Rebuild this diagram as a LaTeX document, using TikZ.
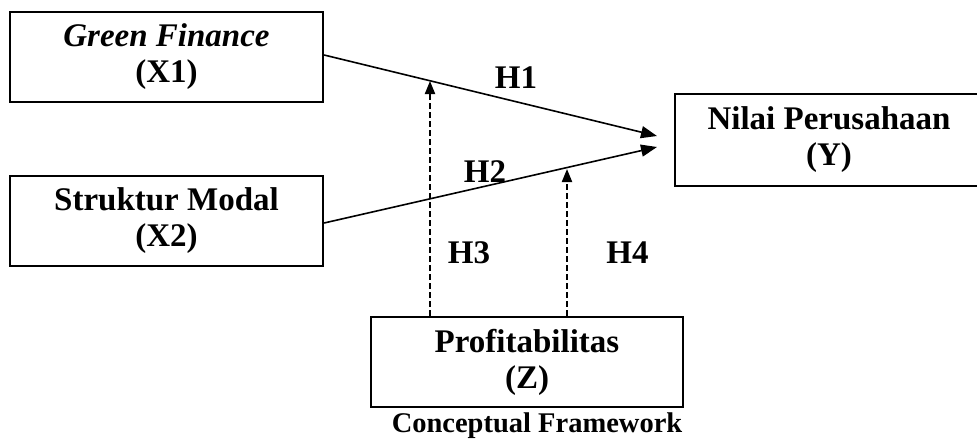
\documentclass[tikz,border=0pt]{standalone}
\usepackage{fontspec}
\setmainfont{Liberation Serif}
\usetikzlibrary{arrows.meta}
\begin{document}
\begin{tikzpicture}[x=1pt,y=-1pt,
 box/.style={draw, line width=2.2pt, minimum width=313pt, minimum height=90pt, align=center, inner sep=0pt, font=\fontsize{33}{36}\selectfont\bfseries},
 arr/.style={line width=1.6pt, -{Triangle[length=16pt,width=12pt]}},
 darr/.style={line width=2pt, dash pattern=on 6pt off 3pt, -{Triangle[length=13pt,width=10pt]}},
 lbl/.style={anchor=base, inner sep=0pt, font=\fontsize{33}{36}\selectfont\bfseries}]
\useasboundingbox (0,0) rectangle (977,439);
\node[box] (X1) at (166.5,57) {{\itshape Green Finance}\\(X1)};
\node[box] (X2) at (166.5,221) {Struktur Modal\\(X2)};
\node[box, minimum width=308pt, minimum height=92pt] (Y) at (829,140) {Nilai Perusahaan\\(Y)};
\node[box, minimum width=312pt] (Z) at (527,362) {Profitabilitas\\(Z)};
\coordinate (t1) at (657,136);
\coordinate (t2) at (657,147);
\coordinate (d1) at (430,81);
\coordinate (d2) at (567,169);
\draw[arr] ([yshift=2pt]X1.east) -- (t1);
\draw[arr] ([yshift=-2pt]X2.east) -- (t2);
\draw[darr] (d1 |- Z.north) -- (d1);
\draw[darr] (d2 |- Z.north) -- (d2);
\node[lbl] (h1) at (516,88) {H1};
\node[lbl] (h2) at (485,182) {H2};
\node[lbl] (h3) at (469,263) {H3};
\node[lbl] (h4) at (627.5,263) {H4};
\node[anchor=base, inner sep=0pt, font=\fontsize{28.5}{30}\selectfont\bfseries] (cap) at (537,432) {Conceptual Framework};
\end{tikzpicture}
\end{document}
